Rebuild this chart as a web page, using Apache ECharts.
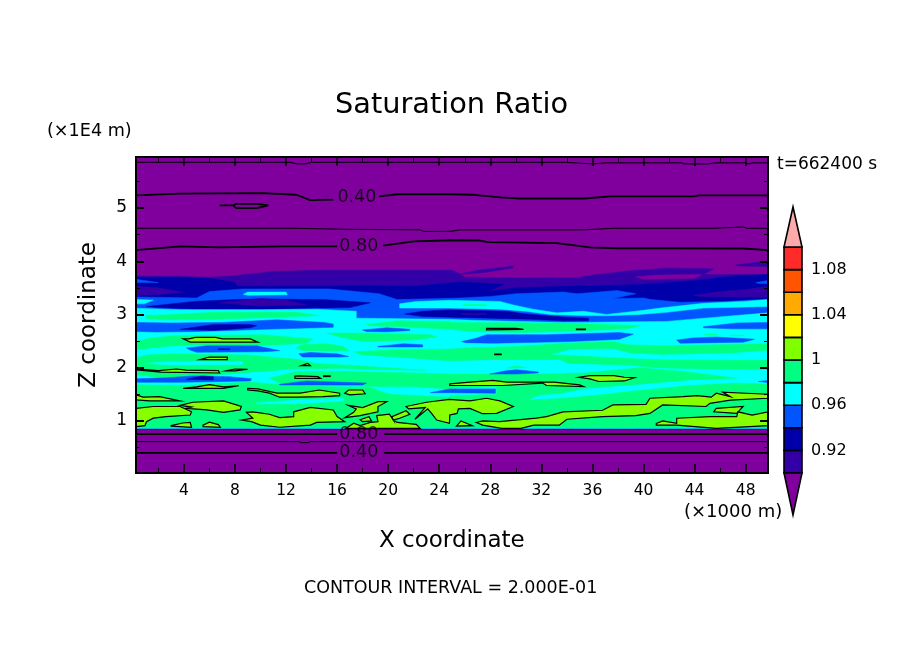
<!DOCTYPE html>
<html>
<head>
<meta charset="utf-8">
<style>html,body{margin:0;padding:0;background:#fff}#main{width:904px;height:654px}</style>
<script src="https://cdn.jsdelivr.net/npm/echarts@6/dist/echarts.min.js"></script>
</head>
<body>
<div id="main"></div>
<script>
// axis ticks
var xMajor = [4, 8, 12, 16, 20, 24, 28, 32, 36, 40, 44, 48];
var xMinor = [2, 6, 10, 14, 18, 22, 26, 30, 34, 38, 42, 46];
var zMajor = [1, 2, 3, 4, 5];
var zMinor = [0.5, 1.5, 2.5, 3.5, 4.5, 5.5];
var barTicks = [0.92, 0.96, 1, 1.04, 1.08];

// colour bar levels, bottom to top
var barEdges = [0.90, 0.92, 0.94, 0.96, 0.98, 1.00, 1.02, 1.04, 1.06, 1.08, 1.10];
var barColors = ['#3300a8', '#0000aa', '#0055ff', '#00ffff', '#00ff80', '#80ff00', '#ffff00', '#ffaa00', '#ff5500', '#ff2a2a'];

var xMin = 0.25, xMax = 49.75, zMin = 0.02, zMax = 5.96;
var barMin = 0.8628, barMax = 1.1354;

// filled regions, [km, z] outlines, painted in paintOrder
var purple = 0, indigo = 1, navy = 2, blue = 3, cyan = 4, green = 5, lime = 6;
var levelColors = ['#7f009c', '#3300a8', '#0000aa', '#0055ff', '#00ffff', '#00ff80', '#88ff00'];

var purpleBase = [
    [[xMin,zMin],[xMax,zMin],[xMax,zMax],[xMin,zMax]]
];
var indigoAreas = [
    [[0.25,3.72],[3.5,3.72],[6,3.70],[8.4,3.74],[11,3.81],[14.4,3.83],[25,3.83],[25.6,3.77],[26,3.70],[29,3.69],[35,3.69],[35.3,3.72],[38.9,3.82],[41.8,3.87],[45.5,3.86],[44.7,3.75],[49.75,3.75],[49.75,0.84],[0.25,0.84]],
    [[25.6,3.76],[27,3.83],[29.8,3.91],[29.8,3.88],[27.5,3.79],[26,3.76]],
    [[47.2,3.93],[49.6,4.0],[49.75,3.93],[49.75,3.90],[47.5,3.91]]
];
var purpleIslands = [
    [[39.4,3.71],[41,3.74],[44.6,3.75],[44,3.68],[40,3.66]]
];
var navyAreas = [
    [[0.25,3.70],[3.5,3.70],[6,3.68],[8,3.60],[8.2,3.53],[14,3.53],[18,3.54],[22,3.53],[25.6,3.61],[29.1,3.57],[27.8,3.43],[30,3.50],[35.3,3.54],[39.5,3.56],[44.6,3.65],[47.2,3.73],[49.75,3.75],[49.75,0.85],[0.25,0.85]]
];
var indigoIslands = [
    [[0.25,3.53],[2,3.50],[3.9,3.42],[2,3.37],[0.25,3.35]],
    [[43.9,3.36],[46,3.43],[48,3.47],[49.75,3.53],[49.75,3.32],[47,3.33],[44.5,3.34]]
];
var blueAreas = [
    [[0.25,3.33],[5,3.31],[6,3.43],[8.6,3.48],[15.4,3.48],[19.3,3.39],[20.7,3.28],[25.6,3.31],[28,3.34],[30,3.39],[33.7,3.42],[34.8,3.39],[37.9,3.45],[39.4,3.39],[37.6,3.30],[40,3.31],[40.6,3.28],[42.85,3.23],[46.2,3.245],[49.75,3.285],[49.75,0.855],[0.25,0.855]],
    [[48.8,3.6],[49.75,3.64],[49.75,3.58],[49,3.58]],
    [[0.25,3.66],[2,3.60],[0.25,3.60]]
];
var upperNavyAreas = [
    [[1.07,3.15],[5,3.25],[8,3.28],[10.2,3.29],[15,3.28],[18.6,3.22],[17,3.13],[10.2,3.1],[5,3.1],[2,3.13]]
];
var upperIndigoAreas = [
    [[6.7,3.22],[10,3.3],[12,3.27],[13.6,3.18],[10,3.16]]
];
var cyanAreas = [
    [[0.25,3.115],[3.7,3.09],[10.2,3.09],[14.4,3.10],[17.5,3.06],[17.5,2.93],[24.8,2.91],[26.65,2.89],[33.7,2.85],[41.8,2.87],[45.7,2.95],[49.75,3.03],[49.75,0.86],[0.25,0.86]],
    [[0.25,3.28],[1.6,3.27],[0.9,3.2],[0.25,3.2]],
    [[8.65,3.38],[9,3.42],[12,3.42],[12.1,3.37],[9,3.36]],
    [[20.9,3.2],[22.2,3.245],[24.8,3.265],[28.75,3.245],[29.8,3.18],[31.35,3.10],[33.2,3.03],[35.3,3.06],[37.1,3.0],[39.7,3.07],[41.3,3.12],[44.7,3.21],[47.8,3.245],[49.75,3.28],[49.75,3.15],[44.7,3.12],[41.8,3.04],[39.7,3.0],[37.1,2.975],[35.3,2.98],[32.7,3.0],[30.8,3.06],[28.75,3.10],[24.83,3.12],[20.9,3.12]]
];
var ribbonNavyAreas = [
    [[21.3,3.01],[22.7,3.06],[24.8,3.09],[29.3,3.06],[30.8,3.01],[34,2.95],[35.7,2.93],[35.7,2.88],[33.7,2.88],[31.1,2.91],[24.83,2.95],[22.7,2.96]]
];
var ribbonIndigoAreas = [
    [[25.75,3.02],[27.7,3.02],[27.7,3.0],[25.75,3.0]]
];
var greenAreas = [
    [[25.9,3.185],[27.7,3.185],[27.7,3.17],[25.9,3.17]],
    [[1,2.98],[3.2,3.0],[6.3,3.04],[12.8,3.04],[14.6,2.98],[12.8,2.96],[6.3,2.91],[2.4,2.90],[1,2.93]],
    [[18.3,2.81],[20.7,2.88],[24.8,2.87],[24.83,2.85],[33.7,2.84],[39.7,2.79],[38.9,2.74],[36.6,2.71],[30.6,2.66],[26.65,2.68],[24.83,2.72],[22,2.76],[18.6,2.79]],
    [[1.3,2.555],[3.2,2.6],[10.2,2.62],[14.1,2.54],[13.6,2.46],[11.5,2.43],[7.6,2.40],[5,2.43],[2.4,2.40],[0.25,2.335],[0.25,2.49]],
    [[15.2,2.65],[18,2.65],[23.3,2.62],[23.8,2.58],[22,2.52],[18,2.49],[16.2,2.58]],
    [[13.2,2.43],[15.2,2.45],[16.5,2.40],[16.9,2.32],[13.4,2.32],[12.8,2.37]],
    [[44.8,2.63],[45.8,2.63],[45.8,2.615],[44.8,2.615]],
    [[46.8,2.61],[47.9,2.61],[47.9,2.6],[46.8,2.6]],
    [[17.3,2.30],[20.7,2.335],[24.8,2.35],[26.1,2.37],[30.05,2.40],[34,2.46],[37.6,2.49],[38.7,2.43],[41.5,2.41],[49.75,2.45],[49.75,1.96],[45.7,1.97],[41,2.0],[38.9,2.05],[34.2,2.08],[33.45,2.15],[27.96,2.15],[24.8,2.13],[20.7,2.2],[18,2.24]],
    [[0.25,2.18],[1.07,2.24],[2.9,2.26],[8.9,2.24],[12.8,2.16],[14.4,2.08],[18,2.03],[22.9,1.95],[18,1.97],[16.5,1.99],[12.8,1.98],[9.2,1.915],[6.55,1.865],[2.4,1.81],[0.25,1.865]],
    [[10.7,1.80],[12.8,1.93],[16.5,1.93],[22,1.9],[24.8,1.88],[31.9,1.88],[35.3,1.90],[39.7,2.0],[43.1,1.93],[47.3,1.80],[43.6,1.77],[39.2,1.68],[35.3,1.61],[33.6,1.52],[31.9,1.49],[31.1,1.41],[30,1.42],[28.5,1.50],[28.5,1.645],[24.83,1.61],[24.8,1.6],[22,1.645],[18.6,1.645],[15.4,1.665],[11.5,1.71]],
    [[29.3,2.0],[30.05,2.03],[30.8,2.0],[29.3,1.99]],
    [[0.25,1.68],[4,1.665],[9.2,1.73],[11.5,1.68],[15.4,1.645],[18.6,1.625],[20.1,1.50],[24.8,1.445],[24.83,1.475],[28.5,1.50],[31.1,1.39],[33.7,1.425],[37.1,1.50],[39.2,1.56],[43.6,1.665],[47.3,1.71],[49.75,1.69],[49.75,0.865],[0.25,0.865]]
];
var cyanPockets = [
    [[32.9,2.25],[34.2,2.335],[37.6,2.35],[38.9,2.27],[41.5,2.24],[45.2,2.26],[47,2.27],[49.75,2.32],[49.75,2.15],[45.7,2.15],[41.5,2.16],[38.9,2.18],[34.2,2.24]],
    [[1,2.08],[3,2.12],[8.6,2.115],[8.6,2.06],[3,2.05]],
    [[9.7,1.34],[12.8,1.39],[16.5,1.425],[16.5,1.375],[12.8,1.32],[9.7,1.32]]
];
var blueWisps = [
    [[44.7,2.77],[47.3,2.84],[49.75,2.85],[49.75,2.73],[47,2.73],[44.7,2.75]],
    [[42.6,2.52],[43.9,2.56],[45.7,2.575],[48.7,2.535],[47.8,2.48],[42.85,2.46]],
    [[25.75,2.49],[26.9,2.555],[27.7,2.62],[32.4,2.62],[38.1,2.66],[39.2,2.63],[38.1,2.535],[34.2,2.49],[28.2,2.46],[26.1,2.47]],
    [[0.25,2.85],[3,2.84],[7,2.85],[11.3,2.90],[15,2.85],[15.7,2.82],[15.7,2.76],[10.2,2.72],[7.6,2.70],[5,2.68],[1.85,2.67],[0.25,2.68]],
    [[4.2,2.37],[5.8,2.41],[9.7,2.41],[11.5,2.32],[10.2,2.30],[5,2.29],[4.5,2.33]],
    [[18,2.71],[19.9,2.75],[21.7,2.72],[21.7,2.70],[19.9,2.675],[18.3,2.68]],
    [[19.2,2.40],[21.2,2.45],[22.7,2.43],[22.7,2.39],[19.2,2.39]],
    [[13,2.26],[13.9,2.285],[16,2.26],[16.9,2.21],[16.2,2.2],[13.3,2.2]],
    [[0.25,1.79],[2.6,1.81],[4.7,1.845],[7.6,1.83],[9.3,1.79],[9.2,1.75],[3.7,1.725],[0.25,1.725]],
    [[11.5,1.69],[13.6,1.75],[18.3,1.71],[18,1.675],[11.5,1.675]],
    [[23.3,1.53],[24.8,1.6],[28.4,1.6],[28.4,1.52],[24.8,1.53]],
    [[27.96,1.88],[29.2,1.94],[30.05,1.96],[31.75,1.92],[31.75,1.9],[30,1.88]],
    [[49,1.74],[49.75,1.76],[49.75,1.72]]
];
var navyWisps = [
    [[3.7,2.72],[6.3,2.81],[9.2,2.81],[9.7,2.79],[9.2,2.75],[6.3,2.70]],
    [[6.7,2.355],[7.6,2.355],[7.6,2.34],[6.7,2.34]],
    [[4.2,1.78],[5.4,1.845],[6.3,1.83],[6.3,1.77]]
];
var limeAreas = [
    [[3.95,2.54],[4.4,2.54],[4.9,2.57],[6.5,2.57],[7,2.54],[9.2,2.54],[9.8,2.48],[4.5,2.48]],
    [[5.25,2.15],[7.4,2.15],[7.4,2.2],[6,2.2]],
    [[27.7,2.74],[30,2.74],[30.6,2.72],[27.7,2.71]],
    [[13.2,2.04],[13.7,2.08],[13.9,2.04]],
    [[0.25,1.98],[2,1.945],[3.4,1.975],[4.2,1.955],[6.7,1.945],[6.8,1.90],[2.2,1.915],[0.25,1.96]],
    [[7.3,1.94],[8,1.975],[9,1.97],[8,1.94]],
    [[12.7,1.84],[13,1.845],[14.5,1.83],[14.7,1.8],[12.7,1.80]],
    [[3.95,1.61],[5,1.64],[6,1.68],[7.1,1.64],[8.3,1.66],[7.1,1.61]],
    [[9,1.61],[9.8,1.60],[11.3,1.52],[13.1,1.52],[14.6,1.58],[16.2,1.52],[16.2,1.475],[14.9,1.455],[12.8,1.445],[11.5,1.445],[10.7,1.52],[9.8,1.565],[9,1.58]],
    [[16.6,1.52],[16.9,1.58],[18,1.58],[18.2,1.51],[17,1.49]],
    [[0.25,1.49],[0.8,1.445],[2.1,1.455],[3.7,1.375],[1.3,1.375],[0.25,1.395]],
    [[3.7,1.29],[4.7,1.35],[7.1,1.375],[8.5,1.27],[8.4,1.205],[7.1,1.16],[5.8,1.205],[4.2,1.235],[4.6,1.26]],
    [[0.25,1.235],[1.6,1.27],[3.7,1.27],[4.6,1.17],[4.5,1.11],[2.6,1.08],[1.6,1.05],[1.07,0.985],[0.95,0.91],[0.25,0.89]],
    [[3,0.91],[3.9,0.96],[4.5,0.97],[4.6,0.88],[3,0.9]],
    [[5.5,0.92],[6,0.975],[6.7,0.93],[6.85,0.88],[5.5,0.89]],
    [[8.5,1.015],[9.4,1.05],[8.9,1.16],[9.4,1.17],[10.7,1.125],[11.5,1.06],[12.6,1.08],[12.6,1.17],[13.9,1.255],[15.7,1.205],[16,1.08],[16.6,0.985],[14.4,0.97],[13.9,0.92],[11.5,0.88],[10,0.92],[9.3,0.985]],
    [[16.9,1.29],[18,1.25],[19.2,1.36],[19.9,1.36],[19.2,1.27],[19.2,1.17],[17.8,1.10],[16.6,1.06],[17.3,1.16],[17.5,1.225]],
    [[17.8,1.02],[18.5,1.08],[18.7,1.0],[18,0.985]],
    [[16.7,0.86],[17.3,0.955],[17.8,0.91],[18.6,0.97],[19.2,0.985],[19.1,1.10],[20.1,1.125],[20.4,1.015],[20.3,1.08],[21.4,1.19],[21.7,1.125],[20.9,1.05],[20.4,1.015],[20.7,0.97],[22.2,0.935],[22.5,0.86]],
    [[21.4,1.27],[23,1.35],[24.8,1.405],[26.4,1.375],[27.7,1.425],[28.75,1.375],[29.8,1.27],[28.5,1.14],[27.4,1.135],[26.4,1.235],[25.5,1.225],[25.4,1.14],[24.83,1.11],[24.8,0.955],[23.8,1.015],[23.4,1.14],[23.1,1.225],[22.1,1.03],[22.9,1.25],[21.6,1.225]],
    [[25.35,0.9],[25.7,1.0],[26.6,0.91]],
    [[26.9,0.97],[27.4,1.0],[28.7,0.985],[31.6,1.05],[32.4,1.08],[33.7,1.17],[36.8,1.2],[37.6,1.30],[40.2,1.31],[40.5,1.425],[43.1,1.455],[44.2,1.475],[45.3,1.445],[45.7,1.52],[46.8,1.455],[46.2,1.54],[49.75,1.50],[49.75,1.425],[46.8,1.39],[45.2,1.33],[44.9,1.27],[41.5,1.30],[40.5,1.14],[39.4,1.10],[36.8,1.08],[34,1.03],[33.4,0.92],[31.4,0.92],[30.4,0.86],[28.9,0.86],[27.4,0.92]],
    [[45.7,1.235],[47.8,1.27],[47.3,1.14],[45.5,1.17]],
    [[41,0.95],[41.5,1.0],[42.6,0.955],[42.6,1.05],[45.2,1.08],[47.3,1.08],[47.4,1.17],[48.5,1.11],[49.75,1.17],[49.75,0.91],[45.7,0.86],[42.6,0.92],[41,0.92]],
    [[34.9,1.82],[35.8,1.85],[37.7,1.85],[38.5,1.82],[39.3,1.81],[38.5,1.75],[36.5,1.74],[35.8,1.79]],
    [[24.83,1.695],[26.4,1.73],[28.2,1.76],[29.3,1.73],[33,1.73],[35,1.675],[35.3,1.645],[32.4,1.665],[32.1,1.71],[29,1.665],[24.83,1.665]]
];

// contour lines, [km, z]
var heavyLines = [
    [[0.25,5.24],[3.7,5.27],[10.2,5.28],[12.8,5.25],[13.9,5.15],[15.7,5.16]],
    [[19.3,5.22],[20.7,5.26],[25,5.26],[26.7,5.25],[28.8,5.2],[30.3,5.18],[35.3,5.18],[37.4,5.22],[44,5.22],[44.3,5.24],[49.75,5.24]],
    [[6.8,5.05],[7.9,5.05],[8.1,5.08],[9.7,5.08],[10.6,5.05],[9.7,5.0],[8.1,5.0],[7.9,5.04]],
    [[0.25,4.21],[3.7,4.28],[6.8,4.26],[11.8,4.28],[16,4.28]],
    [[19.6,4.295],[22,4.375],[25,4.395],[27.2,4.39],[27.8,4.36],[33.2,4.34],[35.8,4.26],[37.9,4.245],[42.8,4.245],[47.8,4.24],[49.75,4.21]],
    [[0.25,0.75],[16,0.75]],
    [[19.7,0.75],[49.75,0.75]],
    [[0.25,0.4],[16,0.4]],
    [[19.7,0.4],[49.75,0.4]],
    [[28.3,2.25],[28.9,2.25]],
    [[34.7,2.72],[35.5,2.72]],
    [[14.9,1.84],[15.5,1.84]]
];
var thinLines = [
    [[0.25,5.86],[12.3,5.86],[12.9,5.83],[13.5,5.83],[14,5.86],[33.9,5.86],[34,5.83],[36,5.83],[37,5.85],[43,5.85],[43.2,5.83],[45,5.83],[45.6,5.85],[48,5.85],[48.2,5.83],[48.6,5.85],[49.75,5.85]],
    [[0.25,4.62],[12.6,4.62],[17,4.6],[22.5,4.59],[22.8,4.56],[25,4.565],[25.6,4.59],[35.3,4.59],[35.4,4.61],[37.6,4.62],[45.5,4.62],[47.8,4.645],[48.1,4.62],[49.75,4.62]],
    [[0.25,0.61],[13,0.61],[13.2,0.59],[13.7,0.59],[13.9,0.61],[49.75,0.61]]
];
var contourLabels = [[17.55, 5.2, '0.40'], [17.7, 4.28, '0.80'], [17.7, 0.75, '0.80'], [17.7, 0.4, '0.40']];

var paintOrder = [
    [purple, purpleBase], [indigo, indigoAreas], [purple, purpleIslands], [navy, navyAreas], [indigo, indigoIslands],
    [blue, blueAreas], [navy, upperNavyAreas], [indigo, upperIndigoAreas], [cyan, cyanAreas],
    [navy, ribbonNavyAreas], [indigo, ribbonIndigoAreas], [green, greenAreas],
    [cyan, cyanPockets], [blue, blueWisps], [navy, navyWisps], [lime, limeAreas]
];

var fontName = '"DejaVu Sans"';

var regions = [];
paintOrder.forEach(function (layer) {
    layer[1].forEach(function (outline) {
        regions.push({ level: layer[0], outline: outline });
    });
});

function tickAxis(position, ticks, length, width, labelled, isX) {
    return {
        type: 'value',
        position: position,
        gridIndex: 0,
        min: isX ? xMin : zMin,
        max: isX ? xMax : zMax,
        z: 10,
        axisLine: { show: true, lineStyle: { color: '#000', width: 2 } },
        axisTick: { show: true, inside: true, length: length, customValues: ticks, lineStyle: { color: '#000', width: width } },
        axisLabel: labelled ? { show: true, customValues: ticks, color: '#000', fontFamily: fontName, fontSize: isX ? 15.5 : 17, margin: labelled } : { show: false },
        splitLine: { show: false }
    };
}

var xAxes = [
    tickAxis('bottom', xMajor, 9, 1.5, 10, true),
    tickAxis('bottom', xMinor, 5, 1, 0, true),
    tickAxis('top', xMajor, 9, 1.5, 0, true),
    tickAxis('top', xMinor, 5, 1, 0, true),
    { type: 'value', gridIndex: 1, min: 0, max: 1, show: false }
];
var yAxes = [
    tickAxis('left', zMajor, 8, 2, 9, false),
    tickAxis('left', zMinor, 4, 1, 0, false),
    tickAxis('right', zMajor, 8, 2, 0, false),
    tickAxis('right', zMinor, 4, 1, 0, false),
    {
        type: 'value', gridIndex: 1, position: 'right', min: barMin, max: barMax,
        axisLine: { show: false }, axisTick: { show: false }, splitLine: { show: false },
        axisLabel: { customValues: barTicks, color: '#000', fontFamily: fontName, fontSize: 16, margin: 9, formatter: function (v) { return String(v); } }
    }
];

var series = [];

series.push({
    type: 'custom',
    xAxisIndex: 0,
    yAxisIndex: 0,
    clip: true,
    silent: true,
    animation: false,
    data: regions.map(function (r, i) { return [i]; }),
    encode: { x: -1, y: -1 },
    renderItem: function (params, api) {
        var r = regions[api.value(0)];
        var isLime = r.level === lime;
        return {
            type: 'polygon',
            shape: { points: r.outline.map(function (p) { return api.coord(p); }) },
            style: { fill: levelColors[r.level], stroke: isLime ? '#000' : levelColors[r.level], lineWidth: isLime ? 1.2 : 0.5 }
        };
    }
});

heavyLines.forEach(function (line) {
    series.push({ type: 'line', xAxisIndex: 0, yAxisIndex: 0, z: 5, data: line, symbol: 'none', silent: true, animation: false, lineStyle: { color: '#000', width: 1.8 } });
});
thinLines.forEach(function (line) {
    series.push({ type: 'line', xAxisIndex: 0, yAxisIndex: 0, z: 5, data: line, symbol: 'none', silent: true, animation: false, lineStyle: { color: '#000', width: 1 } });
});

series.push({
    type: 'scatter',
    xAxisIndex: 0,
    yAxisIndex: 0,
    z: 6,
    symbolSize: 0,
    silent: true,
    animation: false,
    data: contourLabels,
    label: { show: true, position: 'inside', color: '#000', textBorderWidth: 0, fontFamily: fontName, fontSize: 17.5, formatter: function (p) { return p.value[2]; } }
});

// colour bar cells and end triangles
series.push({
    type: 'custom',
    xAxisIndex: 4,
    yAxisIndex: 4,
    clip: false,
    silent: true,
    animation: false,
    data: barColors.map(function (c, i) { return [i]; }),
    encode: { x: -1, y: -1 },
    renderItem: function (params, api) {
        var i = api.value(0);
        return {
            type: 'polygon',
            shape: { points: [[0, barEdges[i]], [1, barEdges[i]], [1, barEdges[i + 1]], [0, barEdges[i + 1]]].map(function (p) { return api.coord(p); }) },
            style: { fill: barColors[i], stroke: '#000', lineWidth: 1.6 }
        };
    }
});
series.push({
    type: 'custom',
    xAxisIndex: 4,
    yAxisIndex: 4,
    clip: false,
    silent: true,
    animation: false,
    data: [[barEdges[barEdges.length - 1], barMax, 0], [barEdges[0], barMin, 1]],
    encode: { x: -1, y: -1 },
    renderItem: function (params, api) {
        return {
            type: 'polygon',
            shape: { points: [[0, api.value(0)], [1, api.value(0)], [0.5, api.value(1)]].map(function (p) { return api.coord(p); }) },
            style: { fill: api.value(2) ? levelColors[purple] : '#ffaaaa', stroke: '#000', lineWidth: 1.6 }
        };
    }
});

function label(text, x, y, size, extra) {
    var item = { type: 'text', left: x, top: y, silent: true, style: { text: text, fill: '#000', font: size + 'px ' + fontName } };
    if (extra) { item.rotation = extra; }
    return item;
}

var myChart = echarts.init(document.getElementById('main'), null, { renderer: 'canvas' });
myChart.setOption({
    backgroundColor: '#fff',
    animation: false,
    grid: [
        { left: 136, top: 157, width: 632, height: 316 },
        { left: 784, top: 207, width: 18, height: 308 }
    ],
    xAxis: xAxes,
    yAxis: yAxes,
    series: series,
    graphic: [
        label('Saturation Ratio', 335, 91, 28.8),
        label('(×1E4 m)', 47, 122, 17.6),
        label('t=662400 s', 777, 156, 17),
        label('Z coordinate', 78, 242, 23, Math.PI / 2),
        label('X coordinate', 379, 530, 23),
        label('(×1000 m)', 684, 503, 18),
        label('CONTOUR INTERVAL = 2.000E-01', 304, 579, 17.5)
    ]
});
</script>
</body>
</html>
